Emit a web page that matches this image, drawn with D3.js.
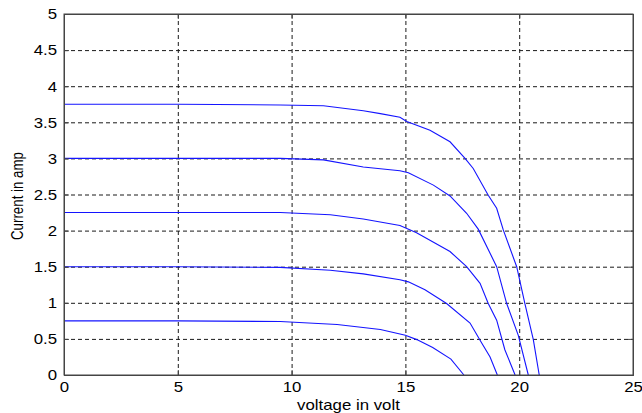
<!DOCTYPE html>
<html>
<head>
<meta charset="utf-8">
<script src="https://cdn.jsdelivr.net/npm/d3@7"></script>
<style>
  body { margin: 0; background: #fff; }
  text { font-family: "Liberation Sans", Arial, sans-serif; fill: #000; }
</style>
</head>
<body>
<div id="chart"></div>
<script>
// tick values shown on the axes
var xTicks = [0, 5, 10, 15, 20, 25];
var yTicks = [0, 0.5, 1, 1.5, 2, 2.5, 3, 3.5, 4, 4.5, 5];

// I-V curves, one pair of arrays per irradiance level
var volt375 = [0, 5, 9.5, 11.4, 13.15, 13.9, 14.76, 15.06, 16.08, 16.96, 17.62, 17.98, 18.64, 19.01, 19.3, 19.89, 20.25, 20.62, 20.88];
var amp375  = [3.75, 3.75, 3.74, 3.73, 3.66, 3.62, 3.57, 3.51, 3.39, 3.23, 3.0, 2.86, 2.49, 2.31, 2.01, 1.5, 0.99, 0.49, 0];

var volt300 = [0, 5, 9.5, 11.4, 13.15, 14.76, 15.13, 16.23, 16.96, 17.69, 18.2, 19.01, 19.45, 19.96, 20.4];
var amp300  = [3.0, 3.0, 3.0, 2.98, 2.88, 2.83, 2.8, 2.63, 2.48, 2.24, 2.02, 1.5, 0.99, 0.55, 0];

var volt225 = [0, 5, 9.5, 11.7, 13.15, 14.76, 15.49, 16.96, 17.69, 18.28, 18.64, 19.01, 19.37, 19.82];
var amp225  = [2.25, 2.25, 2.25, 2.22, 2.16, 2.07, 1.97, 1.71, 1.5, 1.27, 0.99, 0.76, 0.35, 0];

var volt150 = [0, 5, 9.5, 11.7, 13.15, 14.76, 15.13, 15.86, 16.81, 17.84, 18.28, 18.72, 19.04];
var amp150  = [1.5, 1.5, 1.49, 1.45, 1.4, 1.32, 1.29, 1.18, 0.99, 0.72, 0.48, 0.25, 0];

var volt075 = [0, 5, 9.5, 12, 13.9, 15, 15.5, 16.2, 17, 17.57];
var amp075  = [0.75, 0.75, 0.74, 0.7, 0.63, 0.55, 0.49, 0.38, 0.22, 0];

var curves = [[volt375, amp375], [volt300, amp300], [volt225, amp225], [volt150, amp150], [volt075, amp075]];

var width = 642, height = 413;
var margin = { top: 14, right: 9, bottom: 38, left: 64 };
var innerW = width - margin.left - margin.right;
var innerH = height - margin.top - margin.bottom;

var svg = d3.select('#chart').append('svg')
    .attr('width', width)
    .attr('height', height);

var g = svg.append('g')
    .attr('transform', 'translate(' + margin.left + ',' + margin.top + ')');

var x = d3.scaleLinear().domain([0, 25]).range([0, innerW]);
var y = d3.scaleLinear().domain([0, 5]).range([innerH, 0]);

// dashed grid
g.append('g')
    .attr('class', 'grid')
    .attr('transform', 'translate(0,' + innerH + ')')
    .call(d3.axisBottom(x).tickValues(xTicks).tickSize(-innerH).tickFormat(''));
g.append('g')
    .attr('class', 'grid')
    .call(d3.axisLeft(y).tickValues(yTicks).tickSize(-innerW).tickFormat(''));
g.selectAll('.grid .domain').remove();
g.selectAll('.grid line')
    .attr('stroke', '#1a1a1a')
    .attr('stroke-width', 1)
    .attr('stroke-dasharray', '4,3');

// curves
var line = d3.line()
    .x(d => x(d[0]))
    .y(d => y(d[1]));

curves.forEach(function(c)
{
    var pts = c[0].map((v, i) => [v, c[1][i]]);
    g.append('path')
        .datum(pts)
        .attr('fill', 'none')
        .attr('stroke', '#1414ff')
        .attr('stroke-width', 1.1)
        .attr('d', line);
});

// axes with inside ticks
var xAxis = g.append('g')
    .attr('transform', 'translate(0,' + innerH + ')')
    .call(d3.axisBottom(x).tickValues(xTicks).tickSize(-5).tickPadding(6).tickFormat(d => String(d)));
var yAxis = g.append('g')
    .call(d3.axisLeft(y).tickValues(yTicks).tickSize(-5).tickPadding(7).tickFormat(d => String(d)));
g.append('g')
    .call(d3.axisTop(x).tickValues(xTicks).tickSize(-5).tickFormat(''));
g.append('g')
    .attr('transform', 'translate(' + innerW + ',0)')
    .call(d3.axisRight(y).tickValues(yTicks).tickSize(-5).tickFormat(''));

g.selectAll('.domain').attr('stroke', '#444');
g.selectAll('.tick line').filter(function() { return !this.closest('.grid'); })
    .attr('stroke', '#444');

[xAxis, yAxis].forEach(function(ax)
{
    ax.selectAll('text')
        .attr('fill', '#000')
        .style('font-size', '15px')
        .style('font-family', '"Liberation Sans", Arial, sans-serif');
});

// frame
g.append('rect')
    .attr('width', innerW)
    .attr('height', innerH)
    .attr('fill', 'none')
    .attr('stroke', '#444')
    .attr('stroke-width', 1);

// axis titles
svg.append('text')
    .attr('x', margin.left + innerW / 2)
    .attr('y', 410)
    .attr('text-anchor', 'middle')
    .style('font-size', '15px')
    .text('voltage in volt');

svg.append('text')
    .attr('transform', 'translate(23,196) rotate(-90)')
    .attr('text-anchor', 'middle')
    .style('font-size', '16px')
    .text('Current in amp');

// stretch the labels to the widths seen in the original picture
svg.selectAll('text').each(function()
{
    var t = d3.select(this);
    var len = this.getComputedTextLength();
    var newLen = (t.text() === 'Current in amp') ? 88 : len * 1.12;
    t.attr('textLength', newLen).attr('lengthAdjust', 'spacingAndGlyphs');
});
</script>
</body>
</html>
